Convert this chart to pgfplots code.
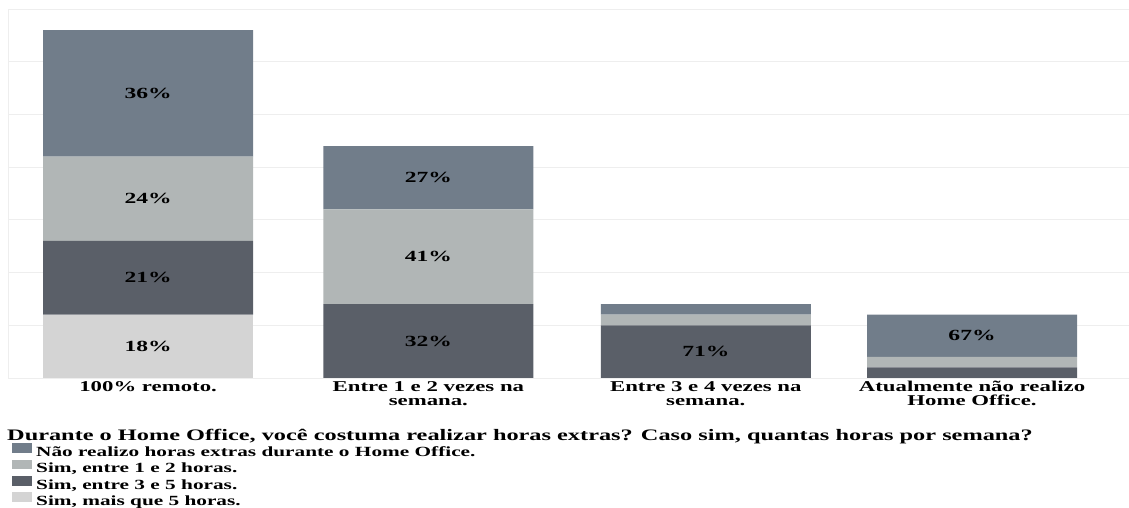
\documentclass[border=0pt]{standalone}
\usepackage{fontspec}
\setmainfont{Liberation Serif}[FakeStretch=1.52]
\usepackage{pgfplots}
\pgfplotsset{compat=1.18}
\usepackage{pgfplotstable}
\definecolor{cNao}{HTML}{717D8A}
\definecolor{cUm}{HTML}{B1B6B6}
\definecolor{cTres}{HTML}{5A5F68}
\definecolor{cMais}{HTML}{D4D4D4}
\definecolor{gridc}{HTML}{EEEEEE}
\pgfplotstableread{
x    mais e35 e12 nao
0    6    7   8   12
1    0    7   9   6
1.99 0    5   1   1
2.94 0    1   1   4
}\datatab
\newcommand\lab{\fontsize{15}{14}\selectfont\bfseries}
\newcommand\barlab{\fontsize{15.5}{14}\selectfont\bfseries}
\newcommand\leg{\fontsize{14}{14}\selectfont\bfseries}
\begin{document}
\begin{tikzpicture}
\useasboundingbox (0,0) rectangle (1129pt,508pt);
\pgfplotsset{base/.style={
  at={(8pt,130pt)}, anchor=south west, scale only axis,
  width=1121pt, height=369pt, xmin=-0.5, xmax=3.5, ymin=0, ymax=35}}
\begin{axis}[base, ybar stacked, bar width=210pt,
  ytick={0,5,...,35}, yticklabels={}, ymajorgrids,
  grid style={gridc, line width=0.8pt},
  axis line style={gridc, line width=0.8pt},
  major tick length=0pt,
  xtick={0,1,1.99,2.94},
  xticklabels={{100\% remoto.},{Entre 1 e 2 vezes na\\semana.},{Entre 3 e 4 vezes na\\semana.},{Atualmente não realizo\\Home Office.}},
  xticklabel style={align=center, font=\lab, inner sep=3pt},
]
\addplot[fill=cMais, draw=none] table[x=x, y=mais]{\datatab};
\addplot[fill=cTres, draw=none] table[x=x, y=e35]{\datatab};
\addplot[fill=cUm, draw=none] table[x=x, y=e12]{\datatab};
\addplot[fill=cNao, draw=none] table[x=x, y=nao]{\datatab};
\end{axis}
\begin{axis}[base, hide axis,
  legend style={at={(0,0)}, anchor=north west, xshift=4pt, yshift=-51pt,
    draw=none, fill=none, inner sep=0pt, font=\leg, row sep=-1.7pt, column sep=0pt,
    nodes={inner xsep=4pt, inner ysep=0pt, text height=11pt, text depth=5pt}},
  legend cell align=left,
  legend image code/.code={\fill[#1] (0pt,0.5pt) rectangle (20pt,10pt);},
]
\addlegendimage{empty legend}
\addlegendentry{\hspace*{-29pt}{\fontsize{16}{14}\selectfont Durante o Home Office, você costuma realizar horas extras? Caso sim, quantas horas por semana?}}
\addlegendimage{fill=cNao, draw=none}
\addlegendentry{Não realizo horas extras durante o Home Office.}
\addlegendimage{fill=cUm, draw=none}
\addlegendentry{Sim, entre 1 e 2 horas.}
\addlegendimage{fill=cTres, draw=none}
\addlegendentry{Sim, entre 3 e 5 horas.}
\addlegendimage{fill=cMais, draw=none}
\addlegendentry{Sim, mais que 5 horas.}
\addplot[draw=none, mark=none, forget plot, point meta=explicit symbolic,
  nodes near coords, nodes near coords align=vertical,
  every node near coord/.append style={font=\barlab, text=black, inner sep=0pt,
    text height=10.5pt, text depth=0pt, yshift=-5.25pt}]
coordinates {
(0,3) [18\%]
(0,9.5) [21\%]
(0,17) [24\%]
(0,27) [36\%]
(1,3.5) [32\%]
(1,11.5) [41\%]
(1,19) [27\%]
(1.99,2.5) [71\%]
(2.94,4) [67\%]
};
\end{axis}
\end{tikzpicture}
\end{document}
